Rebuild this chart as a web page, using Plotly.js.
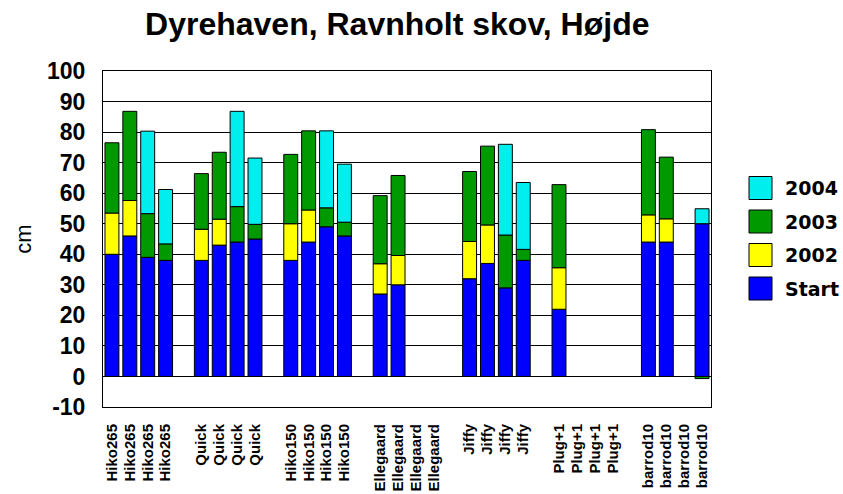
<!DOCTYPE html>
<html><head><meta charset="utf-8">
<script src="https://cdn.plot.ly/plotly-3.0.1.min.js"></script>
<style>body{margin:0;background:#fff}#c{width:843px;height:494px}</style>
</head><body><div id="c"></div>
<script>
const groups = ["Hiko265","Quick","Hiko150","Ellegaard","Jiffy","Plug+1","barrod10"];
const perGroup = 4;
const seriesNames = ["Start","2002","2003","2004"];
const seriesColors = ["#0000FF","#FFFF00","#009900","#00EEEE"];
// stacked increments per bar (28 bars, 4 per group); null = no segment
const start = [40,46,39,38, 38,43,44,45, 38,44,49,46, 27,30,null,null, 32,37,29,38, 22,null,null,null, 44,44,null,50];
const y2002 = [13.5,11.6,null,null, 10.2,8.5,null,null, 12,10.5,null,null, 9.9,9.6,null,null, 12.2,12.6,null,null, 13.6,null,null,null, 8.9,7.6,null,null];
const y2003 = [23,29.2,14.3,5.4, 18.2,21.9,11.6,4.8, 22.7,25.9,6.2,4.5, 22.3,26.2,null,null, 22.9,25.8,17.3,3.6, 27.2,null,null,null, 27.9,20.2,null,-0.7];
const y2004 = [null,null,27,17.8, null,null,31.2,21.7, null,null,25.2,19, null,null,null,null, null,null,29.7,21.9, null,null,null,null, null,null,null,4.9];
const yTicks = [-10,0,10,20,30,40,50,60,70,80,90,100];

const xs = [], labels = [];
groups.forEach((g, gi) => { for (let i = 0; i < perGroup; i++) { xs.push(gi * (perGroup + 1) + i); labels.push(g); } });

const values = [start, y2002, y2003, y2004];
const data = values.map((v, i) => ({
  type:'bar', name:seriesNames[i], x:xs, y:v,
  marker:{color:seriesColors[i], line:{color:'#000', width:1}}, hoverinfo:'skip', showlegend:false
}));

// manual legend (large square keys as in the reference)
const L = 103, W = 608, T = 71, H = 336;
const px2x = p => (p - L) / W, px2y = p => (T + H - p) / H;
const shapes = [], annotations = [];
[3,2,1,0].forEach((si, k) => {
  const cy = 188 + k * 33.5;
  shapes.push({type:'rect', xref:'paper', yref:'paper', x0:px2x(749), x1:px2x(772), y0:px2y(cy+11.5), y1:px2y(cy-11.5),
    fillcolor:seriesColors[si], line:{color:'#000', width:1}});
  annotations.push({xref:'paper', yref:'paper', x:px2x(783), y:px2y(cy), xanchor:'left', yanchor:'middle', showarrow:false,
    text:'<b>'+seriesNames[si]+'</b>', font:{family:'DejaVu Sans, sans-serif', size:19, color:'#000'}});
});

const layout = {
  width:843, height:494,
  margin:{l:L, r:843-L-W, t:T, b:494-T-H},
  barmode:'relative', bargap:0.22,
  paper_bgcolor:'#fff', plot_bgcolor:'#fff',
  font:{family:'Liberation Sans, Arial, sans-serif', color:'#000'},
  title:{text:'<b>Dyrehaven, Ravnholt skov, Højde</b>', font:{size:32, color:'#000'}, x:0.484, xref:'paper', xanchor:'center', y:0.951, yanchor:'middle'},
  xaxis:{type:'linear', range:[-0.5, 33.5], tickvals:xs, ticktext:labels.map(s=>'<b>'+s+'</b>'), tickangle:-90,
    tickfont:{size:15}, ticklabelstandoff:10, showgrid:false, zeroline:false, showline:true, linecolor:'#000', linewidth:1, mirror:true, ticks:'', fixedrange:true},
  yaxis:{range:[-10,100], tickvals:yTicks, ticktext:yTicks.map(v=>'<b>'+v+'</b>'),
    tickfont:{size:23}, ticklabelstandoff:12, showgrid:true, gridcolor:'#000', gridwidth:1, zeroline:true, zerolinecolor:'#000', zerolinewidth:1,
    showline:true, linecolor:'#000', linewidth:1, mirror:true, ticks:'',
    title:{text:'cm', font:{size:22}, standoff:9}},
  shapes, annotations,
  showlegend:false
};
Plotly.newPlot('c', data, layout, {displayModeBar:false, staticPlot:true});
</script></body></html>
